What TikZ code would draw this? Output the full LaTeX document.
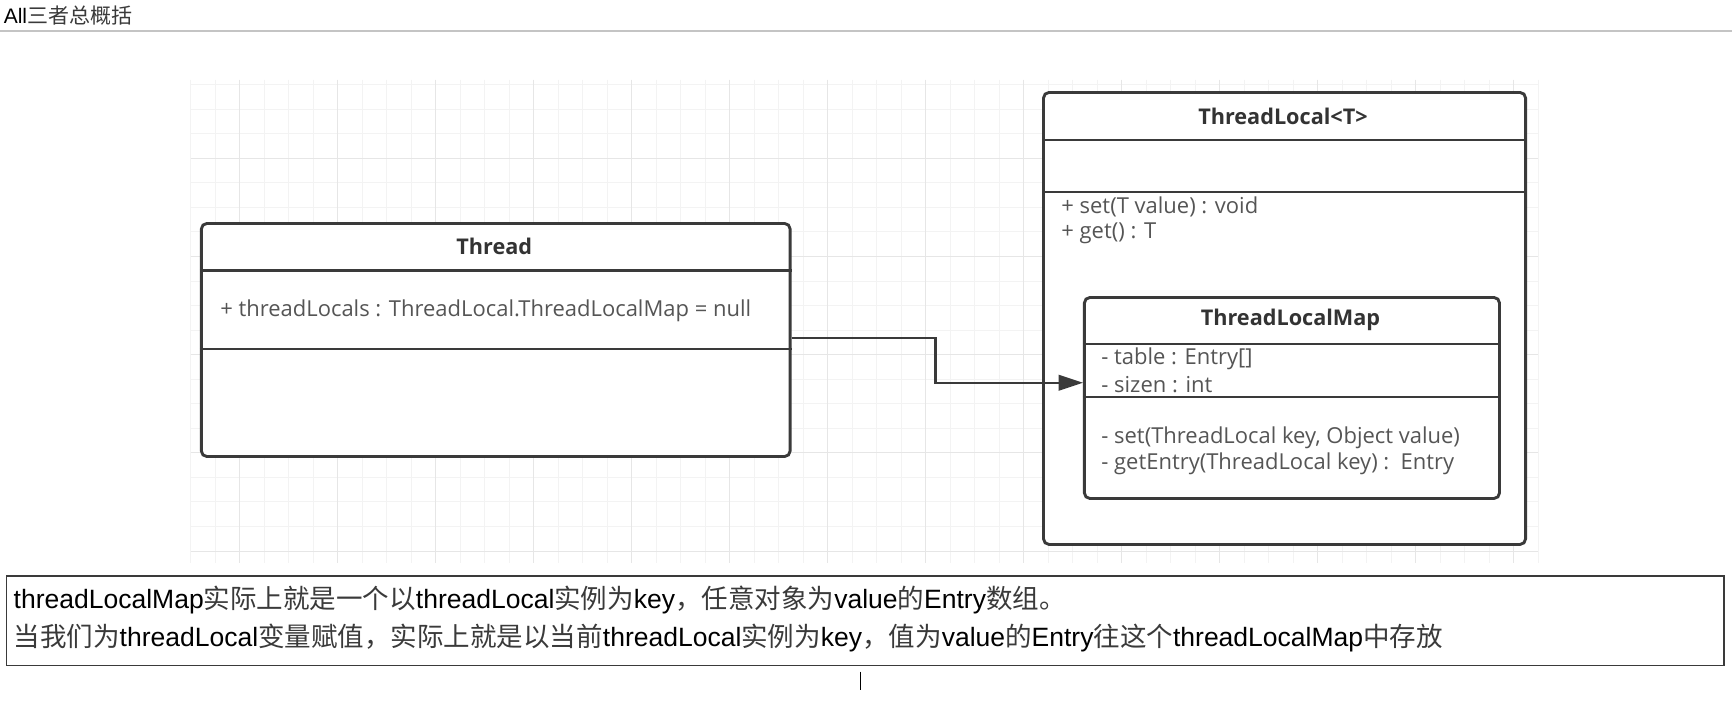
\documentclass[tikz,border=0pt]{standalone}
\usepackage{fontspec}
\setmainfont{Liberation Sans}
\newfontfamily\cjk{Noto Sans CJK SC}
\newfontfamily\umlfont{Open Sans}
\usetikzlibrary{arrows.meta}
\definecolor{boxline}{HTML}{3A3A3A}
\definecolor{titletxt}{HTML}{333333}
\definecolor{membertxt}{HTML}{555555}
\definecolor{gridminor}{HTML}{F3F3F3}
\definecolor{gridmajor}{HTML}{E6E6E6}
\definecolor{zhgray}{HTML}{3A3A3A}
\definecolor{headline}{HTML}{C4C4C4}
\newcommand\zhtxt[1]{{\cjk\color{zhgray}#1}}
\tikzset{
  umlbox/.style={draw=boxline, line width=1.3pt, rounded corners=2.5pt, fill=white, inner sep=0pt, anchor=north west},
  divider/.style={draw=boxline, line width=1.2pt},
  umltitle/.style={inner sep=0pt, font=\umlfont\bfseries\fontsize{9.8}{11}\selectfont, text=titletxt},
  member/.style={inner sep=0pt, anchor=west, font=\umlfont\fontsize{9.95}{11}\selectfont, text=membertxt},
  conn/.style={draw=boxline, line width=1.1pt, -{Triangle[length=11pt,width=7pt]}},
  gminor/.style={draw=gridminor, line width=0.45pt},
  gmajor/.style={draw=gridmajor, line width=0.45pt},
  notebox/.style={draw=boxline, line width=0.6pt, inner sep=0pt, anchor=north west},
  notetxt/.style={inner sep=0pt, anchor=west, font=\fontsize{12}{14}\selectfont, text=black},
}
\begin{document}
\begin{tikzpicture}[x=0.5pt, y=-0.5pt]
\useasboundingbox (0,0) rectangle (1568,636);
\fill[white] (0,0) rectangle (1568,636);
% page header
\node[inner sep=0pt, anchor=west, font=\fontsize{9.5}{11}\selectfont] (pagetitle) at (3,14) {All\zhtxt{三者总概括}};
\draw[headline, line width=1pt] (0,28) -- (1568,28);
% grid
\foreach \i in {0,...,55} {
  \pgfmathsetmacro\xx{172.5+22.18*\i}
  \draw[gminor] (\xx,72.4) -- (\xx,509.7);
}
\foreach \k in {0,...,19} {
  \pgfmathsetmacro\yy{76.7+22.22*\k}
  \draw[gminor] (172.5,\yy) -- (1392.4,\yy);
}
\foreach \i in {2,6,...,54} {
  \pgfmathsetmacro\xx{172.5+22.18*\i}
  \draw[gmajor] (\xx,72.4) -- (\xx,509.7);
}
\foreach \k in {3,7,11,15,19} {
  \pgfmathsetmacro\yy{76.7+22.22*\k}
  \draw[gmajor] (172.5,\yy) -- (1392.4,\yy);
}
% Thread class
\node[umlbox, minimum width=266.5pt, minimum height=105.5pt] (thread) at (181,201) {};
\draw[divider] (thread.west |- 0,245) -- (thread.east |- 0,245);
\draw[divider] (thread.west |- 0,316) -- (thread.east |- 0,316);
\node[umltitle] (threadtitle) at (447.5,223) {Thread};
\node[member] (threadattr) at (199,281) {+ threadLocals : ThreadLocal.ThreadLocalMap = null};
% ThreadLocal class
\node[umlbox, minimum width=218.2pt, minimum height=204.6pt] (tl) at (943.4,82.4) {};
\draw[divider] (tl.west |- 0,126.7) -- (tl.east |- 0,126.7);
\draw[divider] (tl.west |- 0,173.8) -- (tl.east |- 0,173.8);
\node[umltitle] (tltitle) at (1161.5,105) {ThreadLocal<T>};
\node[member] (tlset) at (960.5,187) {+ set(T value) : void};
\node[member] (tlget) at (960.5,211) {+ get() : T};
% ThreadLocalMap class
\node[umlbox, minimum width=187.9pt, minimum height=91pt] (map) at (980.4,268) {};
\draw[divider] (map.west |- 0,311.4) -- (map.east |- 0,311.4);
\draw[divider] (map.west |- 0,359.4) -- (map.east |- 0,359.4);
\node[umltitle] (maptitle) at (1168.3,290) {ThreadLocalMap};
\node[member] (maptable) at (996.7,325) {- table : Entry[]};
\node[member] (mapsize) at (996.7,348.5) {- sizen : int};
\node[member] (mapset) at (996.7,396) {- set(ThreadLocal key, Object value)};
\node[member] (mapget) at (996.7,420) {- getEntry(ThreadLocal key) :\ \ Entry};
% connector
\draw[conn] (thread.east |- 0,306) -- (847,306) -- (847,346.5) -- (map.west |- 0,346.5);
% note box
\node[notebox, minimum width=777.5pt, minimum height=40.5pt] (note) at (5,521) {};
\node[notetxt] (noteone) at (12,543) {threadLocalMap\zhtxt{实际上就是一个以}threadLocal\zhtxt{实例为}key\zhtxt{，任意对象为}value\zhtxt{的}Entry\zhtxt{数组。}};
\node[notetxt] (notetwo) at (12,578) {\zhtxt{当我们为}threadLocal\zhtxt{变量赋值，实际上就是以当前}threadLocal\zhtxt{实例为}key\zhtxt{，值为}value\zhtxt{的}Entry\zhtxt{往这个}threadLocalMap\zhtxt{中存放}};
% text caret
\draw[black, line width=0.5pt] (779,608) -- (779,625);
\end{tikzpicture}
\end{document}
